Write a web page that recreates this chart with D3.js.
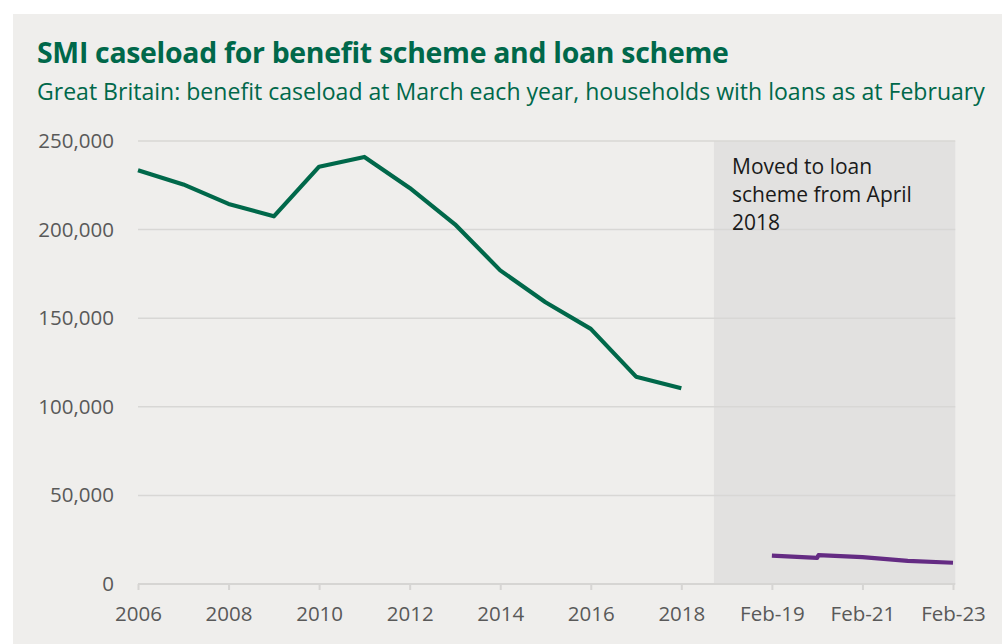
<!DOCTYPE html>
<html><head><meta charset="utf-8">
<script src="https://cdn.jsdelivr.net/npm/d3@7/dist/d3.min.js"></script>
<style>
html,body{margin:0;padding:0;background:#fff;}
svg{display:block;}
</style></head>
<body>
<svg id="c" width="1002" height="644"></svg>
<script>
// ---- data ----
const benefitYears = ["2006","2007","2008","2009","2010","2011","2012","2013","2014","2015","2016","2017","2018"];
const benefitIdx = [0,1,2,3,4,5,6,7,8,9,10,11,12];
const benefitValues = [233500,225500,214500,207500,235500,241000,223500,203000,177000,159000,144000,117000,110500];
const loanLabels = ["Feb-19","Feb-20","Feb-20","Feb-21","Feb-22","Feb-23"];
const loanIdx = [14,15,15,16,17,18];
const loanValues = [16000,14700,16300,15200,13000,12000];
const xTickIdx = [0,2,4,6,8,10,12,14,16,18];
const xTickLabels = ["2006","2008","2010","2012","2014","2016","2018","Feb-19","Feb-21","Feb-23"];
const yTicks = [0,50000,100000,150000,200000,250000];
const shadeRange = [12.72,18.05];
const annotationLines = ["Moved to loan","scheme from April","2018"];
const title = "SMI caseload for benefit scheme and loan scheme";
const subtitle = "Great Britain: benefit caseload at March each year, households with loans as at February";

const svg = d3.select("#c");
const W = 1002, H = 644;
const green = "#00684a", purple = "#642b83";
svg.append("rect").attr("x",13).attr("y",14).attr("width",W-13).attr("height",H-14).attr("fill","#efeeec");

const x = d3.scaleLinear().domain([0,18]).range([138,953]);
const y = d3.scaleLinear().domain([0,250000]).range([584,141]);

// shaded region
svg.append("rect")
  .attr("x", x(shadeRange[0])).attr("y", y(250000))
  .attr("width", x(shadeRange[1]) - x(shadeRange[0]))
  .attr("height", y(0) - y(250000))
  .attr("fill", "#e2e1e0");

// gridlines
svg.append("g").selectAll("line").data(yTicks.filter(d=>d>0)).join("line")
  .attr("x1", x(0)).attr("x2", x(shadeRange[1]))
  .attr("y1", d=>y(d)).attr("y2", d=>y(d))
  .attr("stroke","#d8d7d5").attr("stroke-width",1.5);

// y axis labels
const yAxis = d3.axisLeft(y).tickValues(yTicks).tickFormat(d3.format(",")).tickSize(0).tickPadding(24);
const gy = svg.append("g").attr("transform",`translate(${x(0)},0)`).call(yAxis);
gy.select(".domain").remove();
gy.selectAll("text").attr("font-family","'Open Sans', sans-serif").attr("font-size",20.5).attr("fill","#595959");

// x axis
const xAxis = d3.axisBottom(x).tickValues(xTickIdx).tickFormat((d,i)=>xTickLabels[i]).tickSize(6).tickPadding(16).tickSizeOuter(0);
const gx = svg.append("g").attr("transform",`translate(0,${y(0)})`).call(xAxis);
gx.select(".domain").attr("stroke","#d6d5d3").attr("stroke-width",2).attr("d",`M${x(0)},0H${x(shadeRange[1])}`);
gx.selectAll(".tick line").attr("stroke","#d6d5d3").attr("stroke-width",2);
gx.selectAll("text").attr("font-family","'Open Sans', sans-serif").attr("font-size",20.5).attr("fill","#595959");

// lines
const line = d3.line().x(d=>x(d[0])).y(d=>y(d[1]));
svg.append("path").datum(benefitIdx.map((d,i)=>[d,benefitValues[i]]))
  .attr("d",line).attr("fill","none").attr("stroke",green).attr("stroke-width",4.2).attr("stroke-linejoin","round");
svg.append("path").datum(loanIdx.map((d,i)=>[d+(i===2?0.03:0),loanValues[i]]))
  .attr("d",line).attr("fill","none").attr("stroke",purple).attr("stroke-width",4.2).attr("stroke-linejoin","round");

// annotation
const ann = svg.append("text").attr("font-family","'Open Sans', sans-serif").attr("font-size",21).attr("fill","#1a1a1a");
annotationLines.forEach((t,i)=>ann.append("tspan").attr("x",732).attr("y",174+i*28).text(t));

// titles
function fit(sel, target){
  const w = sel.node().getComputedTextLength();
  const fs = +sel.attr("font-size");
  sel.attr("font-size", fs*target/w);
}
const t1 = svg.append("text").attr("x",37).attr("y",63).attr("font-family","'Open Sans', sans-serif")
  .attr("font-weight","bold").attr("font-size",25).attr("fill",green).attr("letter-spacing",-0.3).text(title);
fit(t1, 690);
const t2 = svg.append("text").attr("x",37).attr("y",100).attr("font-family","'Open Sans', sans-serif")
  .attr("font-size",20).attr("fill",green).text(subtitle);
fit(t2, 948);
</script>
</body></html>
